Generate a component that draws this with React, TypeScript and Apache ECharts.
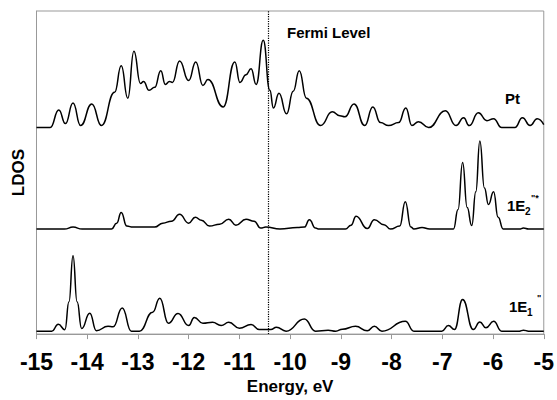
import React, { useEffect, useRef } from "react";
import * as echarts from "echarts";

// Energy axis (eV)
const energyMin = -15;
const energyMax = -5;
const energyStep = 1;
const fermiLevel = -10.43;

// LDOS curves: [energy (eV), LDOS (arb. units, above each curve's own baseline)]
const ptLdos: [number, number][] = [
  [-15, 0], [-14.73, 0], [-14.56, 18], [-14.43, 4], [-14.28, 25], [-14.13, 2], [-13.91, 24], [-13.72, 2],
  [-13.46, 36], [-13.33, 63], [-13.2, 30], [-13.08, 78], [-12.95, 45], [-12.89, 47], [-12.78, 38], [-12.67, 41],
  [-12.55, 58], [-12.46, 44], [-12.38, 47], [-12.32, 46], [-12.18, 68], [-12.0, 48], [-11.86, 67], [-11.72, 43],
  [-11.62, 49], [-11.32, 21], [-11.09, 67], [-10.99, 46], [-10.87, 54], [-10.77, 60], [-10.67, 44], [-10.53, 89],
  [-10.4, 38], [-10.33, 20], [-10.22, 35], [-10.07, 14], [-9.94, 37], [-9.82, 58], [-9.68, 30], [-9.4, 2],
  [-9.17, 16], [-9.02, 12], [-8.92, 11], [-8.74, 24], [-8.53, 2], [-8.37, 21], [-8.22, 5], [-8.06, 2],
  [-7.86, 5], [-7.72, 20], [-7.6, 2], [-7.47, 6], [-7.27, 0], [-6.94, 17], [-6.73, 2], [-6.58, 10],
  [-6.47, 2], [-6.29, 15], [-6.12, 7], [-5.99, 9], [-5.83, 0], [-5.57, 0], [-5.42, 10], [-5.27, 2],
  [-5.13, 9], [-5.0, 3],
];

const e2Ldos: [number, number][] = [
  [-15, 0], [-14.45, 0], [-14.28, 2], [-14.1, 0], [-13.52, 0], [-13.42, 6], [-13.33, 17], [-13.22, 3],
  [-13.1, 2], [-12.67, 2], [-12.51, 6], [-12.34, 8], [-12.18, 15], [-12.0, 6], [-11.87, 12], [-11.75, 9],
  [-11.59, 3], [-11.39, 5], [-11.21, 10], [-11.07, 4], [-10.87, 10], [-10.71, 8], [-10.58, 1], [-10.48, 2],
  [-10.2, 0], [-9.86, 1.5], [-9.72, 2], [-9.62, 9.5], [-9.5, 1], [-9.43, 0], [-8.91, 0], [-8.8, 4],
  [-8.7, 13], [-8.48, 0.5], [-8.34, 9.5], [-8.15, 4.5], [-8.02, 0], [-7.84, 3], [-7.73, 28], [-7.62, 2],
  [-7.56, 0], [-7.4, 1.5], [-7.25, 0], [-6.78, 0], [-6.69, 20], [-6.6, 68], [-6.51, 22], [-6.42, 3.5],
  [-6.34, 38], [-6.26, 90], [-6.17, 42], [-6.09, 25], [-5.99, 38], [-5.9, 12], [-5.8, 0], [-5.48, 0],
  [-5.4, 1], [-5.3, 0], [-5.0, 0],
];

const e1Ldos: [number, number][] = [
  [-15, 0], [-14.7, 0], [-14.57, 7], [-14.44, 1.5], [-14.36, 30], [-14.28, 77], [-14.2, 30], [-14.11, 2.7],
  [-13.95, 18.4], [-13.82, 0.4], [-13.59, 5], [-13.49, 4.4], [-13.31, 23.7], [-13.13, 0], [-12.97, 0], [-12.71, 19.4],
  [-12.57, 33.7], [-12.4, 8], [-12.21, 18], [-12.0, 5.7], [-11.89, 14], [-11.72, 8], [-11.53, 9], [-11.36, 5.7],
  [-11.21, 9], [-11.0, 3], [-10.77, 6.7], [-10.61, 1.7], [-10.38, 1.7], [-10.27, 4], [-10.08, 0], [-9.72, 12.4],
  [-9.5, 0], [-9.25, 1], [-9.1, 0], [-8.97, 2], [-8.71, 5], [-8.48, 0.3], [-8.34, 5], [-8.19, 0],
  [-7.73, 10], [-7.56, 0], [-7.01, 0], [-6.88, 5.7], [-6.76, 1.7], [-6.6, 32.4], [-6.39, 1.7], [-6.26, 9.4],
  [-6.14, 3.4], [-5.99, 10], [-5.83, 0], [-5.48, 0], [-5.4, 1], [-5.3, 0], [-5.0, 0],
];

// vertical stacking offsets of the three curves (arb. units)
const ptOffset = 211;
const e2Offset = 107.3;
const e1Offset = 3;
const yMax = 330;

const FONT = "'Liberation Sans', Arial, Helvetica, sans-serif";

const shift = (d: [number, number][], off: number) => d.map(([e, v]) => [e, v + off]);

export default function App() {
  const ref = useRef<HTMLDivElement>(null);
  useEffect(() => {
    if (!ref.current) return;
    const chart = echarts.init(ref.current, undefined, { renderer: "svg" });
    const lineSeries = (name: string, data: number[][]) => ({
      name,
      type: "line",
      data,
      smooth: 0.5,
      smoothMonotone: "x",
      showSymbol: false,
      symbol: "none",
      lineStyle: { color: "#000", width: 1.5 },
      z: 3,
    });
    chart.setOption({
      animation: false,
      backgroundColor: "#fff",
      grid: {
        left: 36.5,
        right: 12,
        top: 11,
        bottom: 59,
        show: true,
        borderColor: "#999",
        borderWidth: 1,
        backgroundColor: "transparent",
      },
      xAxis: {
        type: "value",
        min: energyMin,
        max: energyMax,
        interval: energyStep,
        name: "Energy, eV",
        nameLocation: "middle",
        nameGap: 42,
        nameTextStyle: { fontFamily: FONT, fontSize: 17, fontWeight: "bold", color: "#000" },
        axisLine: { show: true, lineStyle: { color: "#999", width: 1 } },
        axisTick: { show: true, length: 5, lineStyle: { color: "#999" } },
        splitLine: { show: false },
        axisLabel: { fontFamily: FONT, fontSize: 23, fontWeight: "bold", color: "#000", margin: 16 },
      },
      yAxis: {
        type: "value",
        min: 0,
        max: yMax,
        name: "LDOS",
        nameLocation: "middle",
        nameRotate: 90,
        nameGap: 10,
        nameTextStyle: { fontFamily: FONT, fontSize: 17, fontWeight: "bold", color: "#000" },
        axisLine: { show: true, lineStyle: { color: "#999", width: 1 } },
        axisTick: { show: false },
        axisLabel: { show: false },
        splitLine: { show: false },
      },
      series: [
        {
          ...lineSeries("Pt", shift(ptLdos, ptOffset)),
          markLine: {
            silent: true,
            symbol: "none",
            label: { show: false },
            lineStyle: { color: "#000", type: "dotted", width: 1.2 },
            data: [{ xAxis: fermiLevel }],
          },
        },
        lineSeries("1E2''*", shift(e2Ldos, e2Offset)),
        lineSeries("1E1''", shift(e1Ldos, e1Offset)),
      ],
      graphic: [
        { type: "text", left: 287, top: 25, style: { text: "Fermi Level", font: `bold 15px ${FONT}`, fill: "#000" } },
        { type: "text", left: 505, top: 91, style: { text: "Pt", font: `bold 15px ${FONT}`, fill: "#000" } },
        { type: "text", left: 507, top: 198, style: { text: "1E", font: `bold 15px ${FONT}`, fill: "#000" } },
        { type: "text", left: 525, top: 206, style: { text: "2", font: `bold 10px ${FONT}`, fill: "#000" } },
        { type: "text", left: 531, top: 193, style: { text: "\"*", font: `bold 9px ${FONT}`, fill: "#000" } },
        { type: "text", left: 509, top: 299, style: { text: "1E", font: `bold 15px ${FONT}`, fill: "#000" } },
        { type: "text", left: 527, top: 307, style: { text: "1", font: `bold 10px ${FONT}`, fill: "#000" } },
        { type: "text", left: 537, top: 293, style: { text: "\"", font: `bold 9px ${FONT}`, fill: "#000" } },
      ],
    });
    return () => chart.dispose();
  }, []);
  return <div ref={ref} style={{ width: 557, height: 400, position: "absolute", left: 0, top: 0 }} />;
}
